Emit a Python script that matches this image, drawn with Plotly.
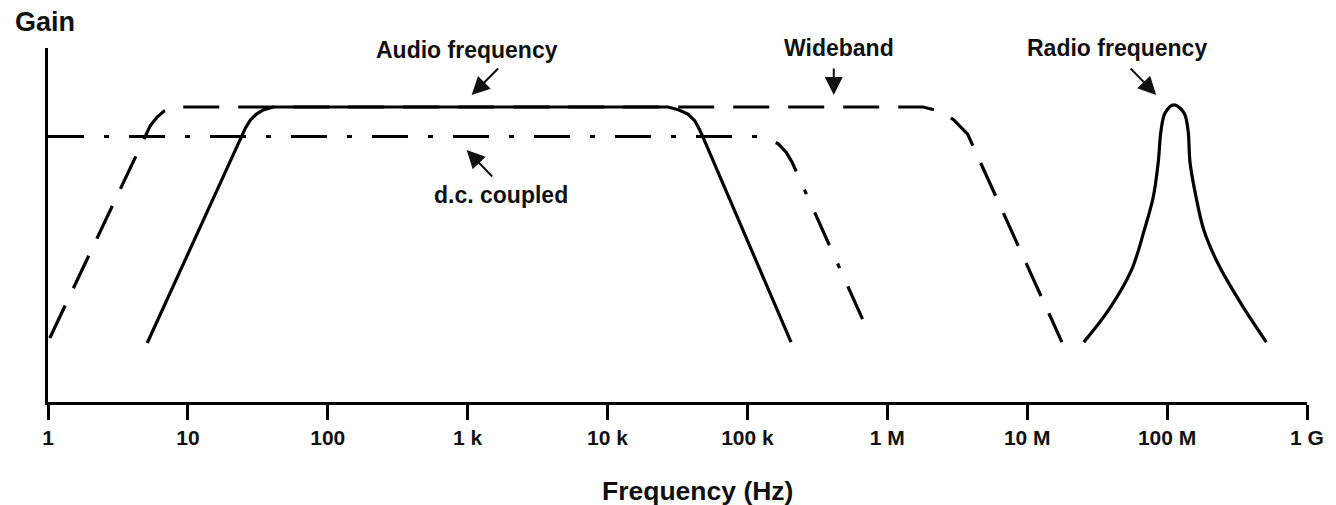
import plotly.graph_objects as go

# ---------------- data ----------------
# Frequencies in Hz, gain in arbitrary units (mid-band = 1)
audio_freq = [5.12, 24.2, 25.8, 28.0, 30.9, 34.6, 40.7,
              27.1e3, 32.4e3, 37.5e3, 42.1e3, 45.6e3, 48.7e3, 205e3]
audio_gain = [0.200, 0.898, 0.929, 0.956, 0.976, 0.990, 1.0,
              1.0, 0.990, 0.976, 0.953, 0.922, 0.892, 0.203]

wide_freq = [1.03, 4.49, 4.88, 5.38, 6.03, 6.76, 7.96,
             1.80e6, 2.19e6, 2.58e6, 2.99e6, 3.35e6, 3.75e6, 17.7e6]
wide_gain = [0.217, 0.861, 0.898, 0.936, 0.966, 0.986, 1.0,
             1.0, 0.990, 0.976, 0.956, 0.932, 0.908, 0.203]

dc_freq = [1.0, 122e3, 143e3, 166e3, 189e3, 208e3, 226e3, 710e3]
dc_gain = [0.90, 0.90, 0.892, 0.875, 0.847, 0.814, 0.776, 0.251]

rf_freq = [25.4e6, 38.2e6, 55.6e6, 68.7e6, 79.6e6, 86.3e6, 90.6e6, 96.8e6, 112e6,
           132e6, 141e6, 146e6, 161e6, 183e6, 230e6, 335e6, 512e6]
rf_gain = [0.203, 0.312, 0.447, 0.583, 0.695, 0.810, 0.922, 0.980, 1.007,
           0.980, 0.922, 0.810, 0.695, 0.583, 0.471, 0.336, 0.203]

tick_vals = [1, 10, 100, 1e3, 1e4, 1e5, 1e6, 1e7, 1e8, 1e9]
tick_text = ["1", "10", "100", "1 k", "10 k", "100 k", "1 M", "10 M", "100 M", "1 G"]

# ---------------- layout helpers ----------------
W, H = 1336, 505
L, R, T, B = 48, 19, 48, 103
PW, PH = W - L - R, H - T - B
FONT = "Liberation Sans, Arial, Helvetica, sans-serif"
INK = "#111111"


def px(xp):
    return (xp - L) / PW


def py(yp):
    return (H - B - yp) / PH


fig = go.Figure()

line_w = 3.2
fig.add_trace(go.Scatter(x=wide_freq, y=wide_gain, mode="lines",
                         line=dict(color="black", width=line_w, dash="36px,19px"),
                         name="Wideband", hoverinfo="skip"))
fig.add_trace(go.Scatter(x=dc_freq, y=dc_gain, mode="lines",
                         line=dict(color="black", width=line_w, dash="36px,20px,5px,20px"),
                         name="d.c. coupled", hoverinfo="skip"))
fig.add_trace(go.Scatter(x=audio_freq, y=audio_gain, mode="lines",
                         line=dict(color="black", width=line_w),
                         name="Audio frequency", hoverinfo="skip"))
fig.add_trace(go.Scatter(x=rf_freq, y=rf_gain, mode="lines",
                         line=dict(color="black", width=line_w,
                                   shape="spline", smoothing=1.0),
                         name="Radio frequency", hoverinfo="skip"))

bold = dict(family=FONT, color=INK, weight="bold")

annotations = []
# labels
for text, xp, yp, size in [
    ("Audio frequency", 470, 50, 23),
    ("Wideband", 845, 48, 23),
    ("Radio frequency", 1125, 48, 23),
    ("d.c. coupled", 505, 195, 23),
    ("Gain", 45, 22, 27),
    ("Frequency (Hz)", 703, 491, 26.5),
]:
    annotations.append(dict(text=text, x=px(xp), y=py(yp), xref="paper", yref="paper",
                            showarrow=False, xanchor="center", yanchor="middle",
                            font=dict(bold, size=size)))

# arrows (head position in pixels, tail offset)
for hx, hy, ax, ay in [
    (475, 95, 28, -28),
    (840, 95, 0, -28),
    (1165, 95, -27, -28),
    (470, 150, 27, 28),
]:
    annotations.append(dict(text="", x=px(hx), y=py(hy), xref="paper", yref="paper",
                            showarrow=True, ax=ax, ay=ay, arrowhead=2, arrowsize=1.8,
                            arrowwidth=2, arrowcolor=INK, standoff=0))

fig.update_layout(
    width=W, height=H,
    margin=dict(l=L, r=R, t=T, b=B),
    paper_bgcolor="white", plot_bgcolor="white",
    showlegend=False,
    annotations=annotations,
    xaxis=dict(type="log", range=[0, 9], showgrid=False, zeroline=False,
               showline=True, linecolor="black", linewidth=3,
               ticks="outside", ticklen=15, tickwidth=3, tickcolor="black",
               tickvals=tick_vals, ticktext=tick_text,
               tickfont=dict(bold, size=21)),
    yaxis=dict(range=[0, 1.2], showgrid=False, zeroline=False,
               showline=True, linecolor="black", linewidth=3,
               showticklabels=False, ticks=""),
)

fig.write_html("out.html", config={"displayModeBar": False},
               post_script="document.body.style.margin='0px';")
